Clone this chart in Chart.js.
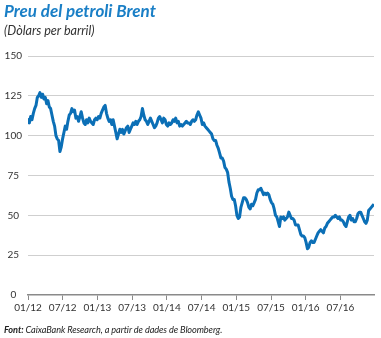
<!DOCTYPE html>
<html>
<head>
<meta charset="utf-8">
<script src="https://cdn.jsdelivr.net/npm/chart.js@4"></script>
<style>
  body { margin: 0; background: #fff; }
  #wrap { position: relative; width: 381px; height: 338px; overflow: hidden; font-family: Lato, sans-serif; }
  #chart { position: absolute; left: 0; top: 0; }
  .title { position: absolute; left: 4px; top: 0px; font-size: 17px; font-weight: bold; font-style: italic; color: #1a7fc6; white-space: nowrap; }
  .sub { position: absolute; left: 4px; top: 23px; font-size: 12.6px; font-style: italic; color: #333; white-space: nowrap; }
  .source { position: absolute; left: 4px; top: 324px; font-size: 9.2px; font-style: italic; color: #222; white-space: nowrap; letter-spacing: -0.1px; }
</style>
</head>
<body>
<div id="wrap">
  <canvas id="chart" width="381" height="338"></canvas>
  <div class="title">Preu del petroli Brent</div>
  <div class="sub">(Dòlars per barril)</div>
  <div class="source"><b>Font:</b> CaixaBank Research, a partir de dades de Bloomberg.</div>
</div>
<script>
// Brent, weekly closes ($/barrel)
const brent2012 = [111, 108, 112, 110, 114, 117, 119, 124, 125, 127, 124, 126, 123,
                   124, 120, 122, 118, 117, 113, 109, 106, 100, 98, 97, 90, 93,
                   98, 102, 106, 104, 109, 113, 114, 117, 115, 116, 111, 112, 109,
                   112, 115, 111, 108, 107, 110, 108, 111, 109, 108, 107, 110, 111];
const brent2013 = [110, 112, 111, 114, 116, 118, 119, 114, 111, 109, 110, 107, 110,
                   106, 102, 98, 101, 104, 102, 104, 101, 103, 105, 106, 102, 104,
                   106, 108, 107, 109, 107, 109, 110, 112, 117, 113, 110, 109, 107,
                   109, 111, 109, 107, 105, 106, 108, 111, 112, 110, 108, 111, 110];
const brent2014 = [107, 106, 108, 107, 108, 110, 109, 111, 108, 109, 106, 107, 106,
                   107, 108, 109, 108, 108, 107, 109, 110, 109, 110, 113, 115, 113,
                   111, 107, 108, 106, 105, 104, 103, 102, 101, 98, 97, 97, 94,
                   92, 89, 86, 86, 84, 80, 79, 77, 71, 67, 62, 60, 60];
const brent2015 = [56, 50, 48, 49, 55, 58, 61, 61, 60, 58, 55, 54, 57,
                   56, 58, 60, 64, 66, 66, 67, 65, 63, 64, 63, 64, 63,
                   60, 58, 57, 54, 50, 49, 46, 43, 49, 48, 49, 47, 48,
                   49, 52, 50, 48, 48, 47, 44, 44, 44, 41, 38, 37, 37];
const brent2016 = [36, 33, 29, 30, 33, 34, 33, 33, 35, 37, 39, 40, 41, 40,
                   39, 42, 43, 45, 46, 47, 48, 49, 49, 50, 49, 48, 49,
                   47, 47, 46, 44, 43, 46, 49, 50, 47, 48, 46, 46, 48,
                   51, 52, 52, 50, 48, 46, 45, 47, 53, 54, 55, 56, 57];

const prices = [...brent2012, ...brent2013, ...brent2014, ...brent2015, ...brent2016];

// x axis in months since January 2012
const tickMonths = [0, 6, 12, 18, 24, 30, 36, 42, 48, 54];
const tickLabels = ['01/12', '07/12', '01/13', '07/13', '01/14', '07/14', '01/15', '07/15', '01/16', '07/16'];
const yTicks = [0, 25, 50, 75, 100, 125, 150];

const points = prices.map((v, i) => ({ x: i * 12 / 52.18, y: v }));

new Chart(document.getElementById('chart'), {
  type: 'line',
  data: {
    datasets: [{
      data: points,
      borderColor: '#0b6fb6',
      borderWidth: 3,
      pointRadius: 0,
      tension: 0,
      borderJoinStyle: 'round',
      fill: false
    }]
  },
  options: {
    responsive: false,
    animation: false,
    layout: { padding: { left: 0, right: 7, top: 56, bottom: 0 } },
    plugins: { legend: { display: false }, tooltip: { enabled: false } },
    scales: {
      x: {
        type: 'linear',
        min: 0,
        max: 59.8,
        afterBuildTicks: s => { s.ticks = tickMonths.map(v => ({ value: v })); },
        afterFit: s => { s.height = 43; },
        ticks: {
          callback: (v, i) => tickLabels[i],
          color: '#333',
          font: { family: 'Lato', size: 10 },
          padding: 2,
          maxRotation: 0,
          autoSkip: false
        },
        grid: { drawOnChartArea: false, drawTicks: true, tickLength: 5, color: '#8a8a8a', lineWidth: 1 },
        border: { display: true, color: '#8a8a8a', width: 1.5 }
      },
      y: {
        min: 0,
        max: 150,
        afterBuildTicks: s => { s.ticks = yTicks.map(v => ({ value: v })); },
        afterFit: s => { s.width = 28; },
        ticks: {
          color: '#333',
          font: { family: 'Lato', size: 10 },
          padding: 6,
          crossAlign: 'center'
        },
        grid: {
          drawTicks: false,
          color: ctx => ctx.tick && ctx.tick.value === 0 ? 'rgba(0,0,0,0)' : '#cfcfcf',
          lineWidth: 1
        },
        border: { display: false }
      }
    }
  }
});
</script>
</body>
</html>
